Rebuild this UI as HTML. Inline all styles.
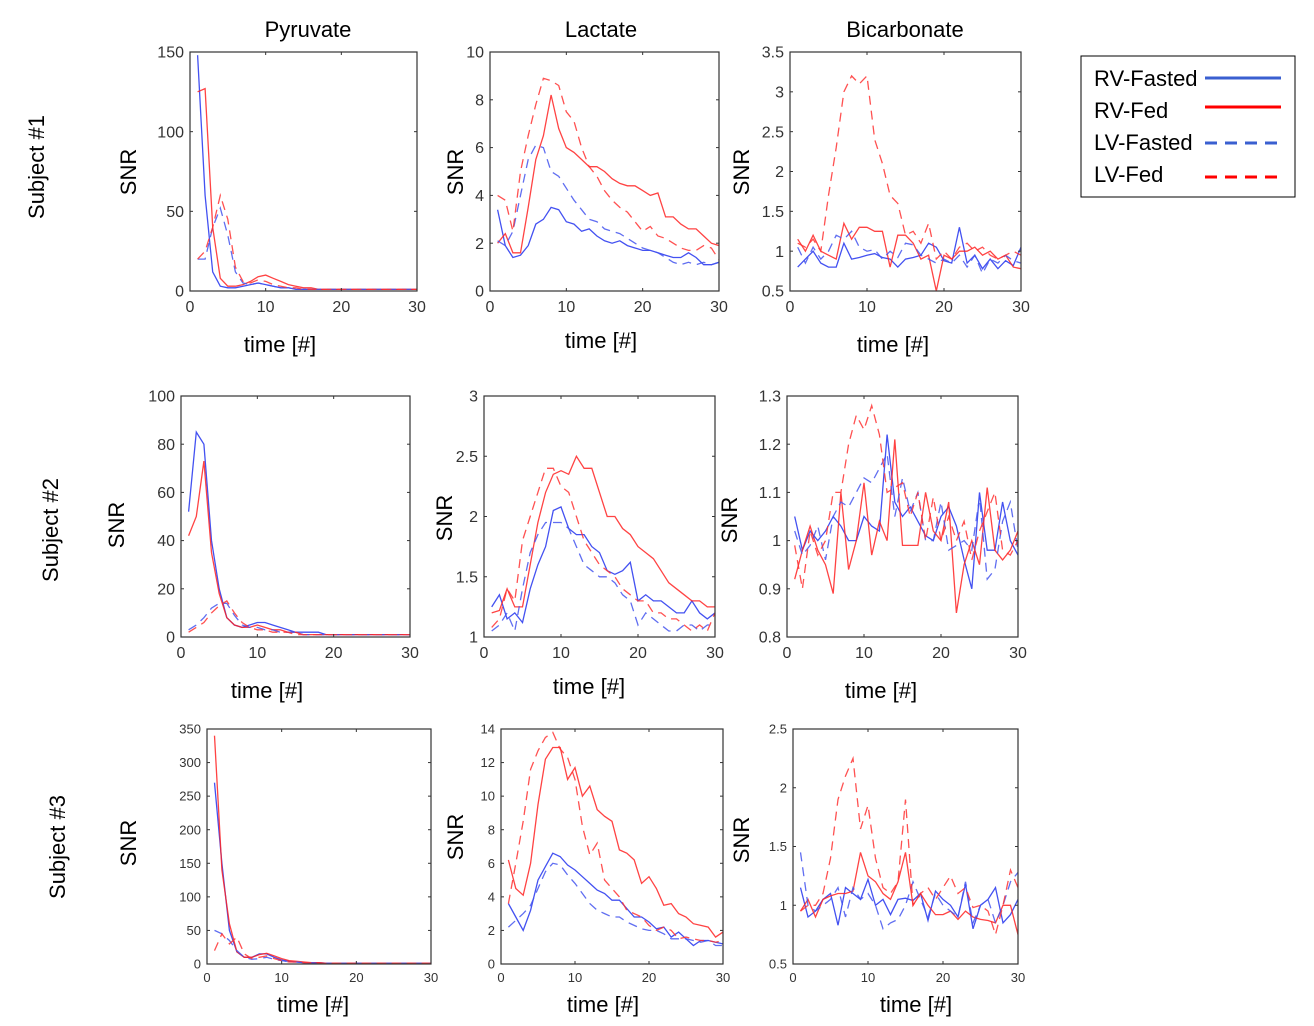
<!DOCTYPE html>
<html><head><meta charset="utf-8"><style>
html,body{margin:0;padding:0;background:#fff;}
svg{display:block;font-family:"Liberation Sans",sans-serif;}
</style></head><body>
<svg id="fig" width="1314" height="1026" viewBox="0 0 1314 1026" xmlns="http://www.w3.org/2000/svg">
<g font-size="22" text-anchor="middle" fill="#000">
<text x="308" y="37">Pyruvate</text>
<text x="601" y="37">Lactate</text>
<text x="905" y="37">Bicarbonate</text>
</g>
<g font-size="22" text-anchor="middle" fill="#000">
<text transform="translate(44,167) rotate(-90)">Subject #1</text>
<text transform="translate(58,530) rotate(-90)">Subject #2</text>
<text transform="translate(65,847) rotate(-90)">Subject #3</text>
</g>
<g>
<rect x="1081" y="56" width="214" height="141" fill="#fff" stroke="#000" stroke-width="1"/>
<text x="1094" y="86" font-size="22">RV-Fasted</text>
<line x1="1205" y1="78" x2="1281" y2="78" stroke="#3a5fd0" stroke-width="3"/>
<text x="1094" y="118" font-size="22">RV-Fed</text>
<line x1="1205" y1="107" x2="1281" y2="107" stroke="#f00" stroke-width="3"/>
<text x="1094" y="150" font-size="22">LV-Fasted</text>
<line x1="1205" y1="143" x2="1281" y2="143" stroke="#3a5fd0" stroke-width="3" stroke-dasharray="12,8"/>
<text x="1094" y="182" font-size="22">LV-Fed</text>
<line x1="1205" y1="177" x2="1281" y2="177" stroke="#f00" stroke-width="3" stroke-dasharray="12,8"/>
</g>
</svg>
<script>
const timePoints=[1,2,3,4,5,6,7,8,9,10,11,12,13,14,15,16,17,18,19,20,21,22,23,24,25,26,27,28,29,30];
const xTicks=[0,10,20,30];
const seriesNames=['rv-fasted','rv-fed','lv-fasted','lv-fed'];

const p1RvFasted=[148,60,12,3,2,2,3,4,5,4,3,2,2,1,1,1,1,1,1,1,1,1,1,1,1,1,1,1,1,1];
const p1RvFed=[125,127,40,8,3,3,4,6,9,10,8,6,4,3,2,2,1,1,1,1,1,1,1,1,1,1,1,1,1,1];
const p1LvFasted=[20,20,40,52,35,12,5,4,5,4,3,2,2,1,1,1,1,1,1,1,1,1,1,1,1,1,1,1,1,1];
const p1LvFed=[20,25,40,60,45,15,6,5,7,6,4,3,2,2,1,1,1,1,1,1,1,1,1,1,1,1,1,1,1,1];
const p1YTicks=[0,50,100,150];

const p2RvFasted=[3.4,1.9,1.4,1.5,1.9,2.8,3.0,3.5,3.4,2.9,2.8,2.5,2.6,2.3,2.1,2.0,2.1,1.9,1.8,1.7,1.7,1.6,1.5,1.4,1.4,1.6,1.4,1.1,1.1,1.2];
const p2RvFed=[2.0,2.4,1.6,1.6,3.5,5.5,6.5,8.2,6.8,6.0,5.8,5.5,5.2,5.2,5.0,4.7,4.5,4.4,4.4,4.2,4.0,4.1,3.1,3.1,2.8,2.6,2.6,2.3,2.0,1.9];
const p2LvFasted=[2.1,1.9,2.5,4.0,5.5,6.1,6.0,5.0,4.8,4.3,3.8,3.4,3.0,2.9,2.6,2.5,2.4,2.2,2.0,1.8,1.7,1.6,1.4,1.2,1.1,1.2,1.1,1.2,1.1,1.2];
const p2LvFed=[4.0,3.8,2.5,5.0,6.5,7.8,8.9,8.8,8.6,7.5,7.1,6.0,5.2,4.8,4.2,3.8,3.5,3.3,2.9,2.5,2.7,2.3,2.2,2.0,1.8,1.7,1.7,1.9,1.8,1.3];
const p2YTicks=[0,2,4,6,8,10];

const p3RvFasted=[0.8,0.9,1.0,0.85,0.8,0.8,1.1,0.9,0.92,0.95,0.97,0.92,0.9,0.8,0.9,0.92,0.95,1.1,1.05,0.88,0.85,1.3,0.85,0.95,0.78,0.9,0.78,0.88,0.82,1.05];
const p3RvFed=[1.15,1.0,1.2,1.0,0.95,0.9,1.35,1.15,1.3,1.3,1.25,1.25,0.8,1.2,1.2,1.1,0.9,0.95,0.5,0.95,0.9,1.0,1.0,1.05,0.95,1.0,0.9,0.95,0.8,0.78];
const p3LvFasted=[1.05,0.85,1.05,0.9,1.0,1.2,1.15,1.25,1.05,1.0,1.02,0.9,1.0,0.92,1.1,1.08,0.95,0.9,0.85,0.9,0.85,0.95,0.8,0.95,0.72,0.9,0.85,0.95,0.88,0.85];
const p3LvFed=[1.1,1.05,1.15,1.0,1.7,2.3,3.0,3.2,3.1,3.2,2.4,2.1,1.7,1.6,1.2,1.25,1.1,1.35,0.9,1.0,0.9,1.05,1.1,1.0,1.05,0.95,0.9,0.95,1.0,0.95];
const p3YTicks=[0.5,1,1.5,2,2.5,3,3.5];

const p4RvFasted=[52,85,80,40,20,8,5,4,5,6,6,5,4,3,2,2,2,2,1,1,1,1,1,1,1,1,1,1,1,1];
const p4RvFed=[42,50,73,35,18,8,5,4,4,5,4,3,3,2,2,1,1,1,1,1,1,1,1,1,1,1,1,1,1,1];
const p4LvFasted=[3,5,8,12,14,14,9,5,4,4,3,3,2,2,2,1,1,1,1,1,1,1,1,1,1,1,1,1,1,1];
const p4LvFed=[2,4,6,10,13,15,10,6,4,3,3,2,2,2,1,1,1,1,1,1,1,1,1,1,1,1,1,1,1,1];
const p4YTicks=[0,20,40,60,80,100];

const p5RvFasted=[1.25,1.35,1.15,1.2,1.12,1.4,1.6,1.75,2.05,2.08,1.9,1.85,1.85,1.75,1.7,1.55,1.52,1.55,1.62,1.3,1.35,1.3,1.3,1.25,1.2,1.2,1.3,1.2,1.15,1.2];
const p5RvFed=[1.2,1.22,1.4,1.25,1.25,1.6,1.95,2.2,2.35,2.38,2.35,2.5,2.4,2.4,2.2,2.0,2.0,1.9,1.85,1.75,1.7,1.65,1.55,1.45,1.4,1.35,1.3,1.3,1.25,1.25];
const p5LvFasted=[1.05,1.1,1.2,1.05,1.4,1.7,1.85,1.95,1.95,1.95,1.9,1.75,1.6,1.55,1.5,1.5,1.45,1.35,1.3,1.1,1.2,1.15,1.1,1.05,1.05,1.1,1.1,1.05,1.1,1.1];
const p5LvFed=[1.08,1.15,1.4,1.3,1.8,2.0,2.2,2.4,2.4,2.25,2.2,2.0,1.8,1.7,1.6,1.55,1.5,1.4,1.35,1.3,1.3,1.2,1.2,1.15,1.15,1.1,1.05,1.1,1.05,1.2];
const p5YTicks=[1,1.5,2,2.5,3];

const p6RvFasted=[1.05,0.98,1.02,1.0,1.02,1.05,1.03,1.0,1.0,1.05,1.03,1.02,1.22,1.08,1.05,1.07,1.04,1.01,1.0,1.05,1.07,1.03,0.96,0.9,1.1,0.98,0.98,1.08,1.0,0.97];
const p6RvFed=[0.92,0.98,1.03,0.98,0.95,0.89,1.1,0.94,1.0,1.12,0.97,1.04,1.0,1.21,0.99,0.99,0.99,1.1,1.02,1.0,1.08,0.85,0.95,1.0,0.95,1.11,0.98,0.96,0.98,1.02];
const p6LvFasted=[1.02,0.97,0.99,1.03,0.96,1.05,1.08,1.07,1.1,1.13,1.12,1.15,1.18,1.05,1.13,1.06,1.1,1.0,1.0,1.08,0.98,0.99,1.0,0.98,1.09,0.92,0.94,1.04,1.08,0.98];
const p6LvFed=[0.99,0.9,1.02,0.97,1.0,1.1,1.1,1.2,1.26,1.23,1.28,1.22,1.1,1.11,1.12,1.05,1.1,1.0,1.09,1.0,1.05,1.0,1.04,0.96,1.02,1.06,1.1,0.98,0.97,1.0];
const p6YTicks=[0.8,0.9,1,1.1,1.2,1.3];

const p7RvFasted=[270,150,50,18,10,10,15,15,10,6,4,3,2,2,2,1,1,1,1,1,1,1,1,1,1,1,1,1,1,1];
const p7RvFed=[340,140,60,18,10,10,14,16,12,8,5,4,3,2,2,1,1,1,1,1,1,1,1,1,1,1,1,1,1,1];
const p7LvFasted=[50,45,35,20,10,7,8,10,7,5,3,3,2,2,1,1,1,1,1,1,1,1,1,1,1,1,1,1,1,1];
const p7LvFed=[20,45,30,40,15,8,10,12,8,5,3,3,2,2,1,1,1,1,1,1,1,1,1,1,1,1,1,1,1,1];
const p7YTicks=[0,50,100,150,200,250,300,350];

const p8RvFasted=[3.6,2.8,2.0,3.2,5.0,5.8,6.6,6.4,5.9,5.6,5.2,4.8,4.4,4.2,3.8,3.8,3.3,2.8,2.8,2.5,2.1,2.2,1.6,1.9,1.5,1.1,1.4,1.4,1.3,1.2];
const p8RvFed=[6.2,4.5,4.1,6.0,9.5,12.2,12.9,12.9,11.0,11.7,10.0,10.6,9.2,8.8,8.5,6.8,6.6,6.2,4.8,5.2,4.5,3.5,3.6,3.0,2.8,2.4,2.3,2.2,1.6,1.9];
const p8LvFasted=[2.2,2.6,3.0,3.5,4.5,5.5,6.0,5.9,5.3,4.8,4.2,3.6,3.2,3.0,2.8,2.8,2.5,2.3,2.1,2.0,2.0,1.8,1.5,1.5,1.5,1.4,1.3,1.4,1.1,1.1];
const p8LvFed=[3.6,6.0,8.5,11.6,12.7,13.5,13.8,12.8,12.3,11.0,8.2,6.5,7.2,5.0,4.5,4.0,3.2,3.0,2.8,2.3,2.0,2.2,2.0,1.5,1.6,1.5,1.4,1.4,1.3,1.4];
const p8YTicks=[0,2,4,6,8,10,12,14];

const p9RvFasted=[1.15,0.9,0.95,1.05,1.1,0.83,1.15,1.1,1.05,1.22,1.0,1.05,0.92,1.05,1.06,1.04,1.1,0.87,1.12,1.05,1.0,0.9,1.18,0.8,1.0,1.05,1.15,0.85,0.92,1.05];
const p9RvFed=[0.95,1.05,0.9,1.05,1.08,1.1,1.1,1.12,1.45,1.25,1.2,1.1,1.05,1.2,1.45,1.0,1.1,1.0,0.92,0.92,0.95,0.88,0.95,0.9,0.88,0.87,0.85,1.0,1.0,0.75];
const p9LvFasted=[1.45,1.0,0.95,1.0,1.05,1.15,0.9,1.15,1.05,1.1,1.0,0.8,0.85,0.88,1.0,1.2,1.05,0.9,1.1,1.0,0.95,0.9,1.2,0.85,1.0,1.05,0.85,1.0,1.2,1.28];
const p9LvFed=[0.95,1.0,1.0,1.1,1.4,1.9,2.1,2.25,1.65,1.85,1.4,1.15,1.1,1.2,1.9,1.0,1.1,1.15,1.05,1.15,1.25,1.1,1.15,0.98,1.0,0.95,0.75,1.0,1.3,1.15];
const p9YTicks=[0.5,1,1.5,2,2.5];

const NS='http://www.w3.org/2000/svg';
const svg=document.getElementById('fig');
function mk(tag,attrs,parent){const e=document.createElementNS(NS,tag);for(const k in attrs)e.setAttribute(k,attrs[k]);parent.appendChild(e);return e;}

const panels=[
 {id:'pyruvate-s1',box:[190,52,417,291],ticks:p1YTicks,s:[p1RvFasted,p1RvFed,p1LvFasted,p1LvFed],fs:16,snr:[128,172],time:[280,352]},
 {id:'lactate-s1',box:[490,52,719,291],ticks:p2YTicks,s:[p2RvFasted,p2RvFed,p2LvFasted,p2LvFed],fs:16,snr:[455,172],time:[601,348]},
 {id:'bicarbonate-s1',box:[790,52,1021,291],ticks:p3YTicks,s:[p3RvFasted,p3RvFed,p3LvFasted,p3LvFed],fs:16,snr:[741,172],time:[893,352]},
 {id:'pyruvate-s2',box:[181,396,410,637],ticks:p4YTicks,s:[p4RvFasted,p4RvFed,p4LvFasted,p4LvFed],fs:16,snr:[116,525],time:[267,698]},
 {id:'lactate-s2',box:[484,396,715,637],ticks:p5YTicks,s:[p5RvFasted,p5RvFed,p5LvFasted,p5LvFed],fs:16,snr:[444,518],time:[589,694]},
 {id:'bicarbonate-s2',box:[787,396,1018,637],ticks:p6YTicks,s:[p6RvFasted,p6RvFed,p6LvFasted,p6LvFed],fs:16,snr:[729,520],time:[881,698]},
 {id:'pyruvate-s3',box:[207,729,431,964],ticks:p7YTicks,s:[p7RvFasted,p7RvFed,p7LvFasted,p7LvFed],fs:13,snr:[128,843],time:[313,1012]},
 {id:'lactate-s3',box:[501,729,723,964],ticks:p8YTicks,s:[p8RvFasted,p8RvFed,p8LvFasted,p8LvFed],fs:13,snr:[455,837],time:[603,1012]},
 {id:'bicarbonate-s3',box:[793,729,1018,964],ticks:p9YTicks,s:[p9RvFasted,p9RvFed,p9LvFasted,p9LvFed],fs:13,snr:[741,840],time:[916,1012]}
];
const colors=['#2233ee','#ff2222','#4455ee','#ff3333'];
const dashes=[null,null,'9,6','9,6'];

panels.forEach(p=>{
 const [x0,y0,x1,y1]=p.box;
 const yMin=p.ticks[0],yMax=p.ticks[p.ticks.length-1];
 const xs=v=>x0+(v-0)/(30-0)*(x1-x0);
 const ys=v=>y1-(v-yMin)/(yMax-yMin)*(y1-y0);
 const g=mk('g',{},svg);
 
 
 const clipId='clip-'+p.id;
 const cp=mk('clipPath',{id:clipId},g);
 mk('rect',{x:x0,y:y0,width:x1-x0,height:y1-y0},cp);
 const bg=mk('rect',{x:x0,y:y0,width:x1-x0,height:y1-y0,fill:'#fff'},g);
 
 
 const lines=mk('g',{'clip-path':'url(#'+clipId+')'},g);
 p.s.forEach((arr,i)=>{
  const d=arr.map((v,j)=>(j?'L':'M')+xs(timePoints[j]).toFixed(1)+','+ys(v).toFixed(1)).join(' ');
  const pa=mk('path',{d:d,fill:'none',stroke:colors[i],'stroke-width':1.3,'stroke-opacity':0.85},lines);
  if(dashes[i])pa.setAttribute('stroke-dasharray',dashes[i]);
  
  
 });
 const frame=mk('rect',{x:x0,y:y0,width:x1-x0,height:y1-y0,fill:'none',stroke:'#333','stroke-width':1.2},g);
 
 
 p.ticks.forEach(t=>{
  const y=ys(t);
  mk('line',{x1:x0,y1:y,x2:x0+3,y2:y,stroke:'#333'},g);
  mk('line',{x1:x1,y1:y,x2:x1-3,y2:y,stroke:'#333'},g);
  const tx=mk('text',{x:x0-6,y:y+p.fs*0.35,'text-anchor':'end','font-size':p.fs,fill:'#333'},g);
  tx.textContent=String(t);
  
  
 });
 xTicks.forEach(t=>{
  const x=xs(t);
  mk('line',{x1:x,y1:y1,x2:x,y2:y1-3,stroke:'#333'},g);
  mk('line',{x1:x,y1:y0,x2:x,y2:y0+3,stroke:'#333'},g);
  const tx=mk('text',{x:x,y:y1+p.fs+5,'text-anchor':'middle','font-size':p.fs,fill:'#333'},g);
  tx.textContent=String(t);
  
  
 });
 const sl=mk('text',{transform:'translate('+(p.snr[0]+8)+','+p.snr[1]+') rotate(-90)','text-anchor':'middle','font-size':22,fill:'#000'},g);
 sl.textContent='SNR';
 
 
 const tl=mk('text',{x:p.time[0],y:p.time[1],'text-anchor':'middle','font-size':22,fill:'#000'},g);
 tl.textContent='time [#]';
 
 
});
</script>
</body></html>
